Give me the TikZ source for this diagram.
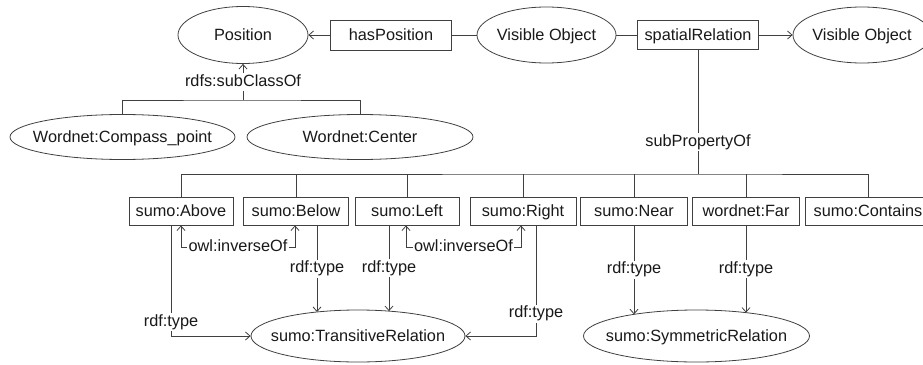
\documentclass[tikz,border=0pt]{standalone}
\usepackage{fontspec}
\setmainfont{Liberation Sans}
\usetikzlibrary{shapes.geometric,arrows.meta,calc}

% ellipse text: zero-size box, caps centred on the node centre
\newcommand\ctr[1]{\makebox[0pt]{\raisebox{-5.85pt}[0pt][0pt]{#1}}}
% vertical arrow from a point straight down onto the border of an ellipse node
% #1 start, #2 ellipse node, #3 x radius, #4 y radius, #5 label
\newcommand\vdrop[5]{%
  \draw[arr] let \p1=(#1), \p2=(#2.center) in
    (\p1) -- node[lbl]{#5}
    (\x1,{\y2+#4pt*sqrt(1-((\x1-\x2)/#3pt)*((\x1-\x2)/#3pt))});}

\colorlet{linecol}{black!75}
\colorlet{textcol}{black!90}

\begin{document}
\begin{tikzpicture}[x=1pt,y=-1pt,
  line width=0.8pt, draw=linecol,
  every node/.style={font=\fontsize{16.3pt}{19pt}\selectfont, text=textcol},
  ell/.style={draw, ellipse, inner sep=0pt},
  box/.style={draw, rectangle, inner sep=0pt, minimum height=28pt,
    text height=11.7pt, text depth=0pt},
  lbl/.style={fill=white, inner sep=1.5pt, text height=11.7pt, text depth=3.5pt},
  arr/.style={-{Straight Barb[length=4.5pt,width=8pt]}},
  arr2/.style={{Straight Barb[length=4.5pt,width=8pt]}-{Straight Barb[length=4.5pt,width=8pt]}}]
\useasboundingbox (0,0) rectangle (923,364);
\clip (0,0) rectangle (923,364);

% top row
\node[ell, minimum width=130pt, minimum height=57pt] (pos) at (243,35) {\ctr{Position}};
\node[box, minimum width=121pt, minimum height=30pt] (hasp) at (391,35) {hasPosition};
\node[ell, minimum width=139pt, minimum height=56pt] (vo1) at (546.5,35) {\ctr{Visible Object}};
\node[box, minimum width=121pt, minimum height=29pt] (spat) at (698,35) {spatialRelation};
\node[ell, minimum width=138pt, minimum height=56pt] (vo2) at (862,35) {\ctr{Visible Object}};

\draw[arr] (hasp.west) -- (pos.east);
\draw (hasp.east) -- (vo1.west);
\draw (vo1.east) -- (spat.west);
\draw[arr] (spat.east) -- (vo2.west);

% subclasses of Position
\node[ell, minimum width=225pt, minimum height=45pt] (cp) at (122.5,137) {\ctr{Wordnet:Compass\_point}};
\node[ell, minimum width=226pt, minimum height=45pt] (cen) at (360,137) {\ctr{Wordnet:Center}};
\coordinate (scj) at (243,100);
\draw (cp.north) |- (scj) -| (cen.north);
\draw[arr] (scj) -- node[lbl]{rdfs:subClassOf} (pos.south);

% sub-properties of spatialRelation
\node[box, minimum width=104pt] (above) at (181,211) {sumo:Above};
\node[box, minimum width=105pt] (below) at (296,211) {sumo:Below};
\node[box, minimum width=104pt] (left) at (407,211) {sumo:Left};
\node[box, minimum width=106pt] (right) at (523,211) {sumo:Right};
\node[box, minimum width=107pt] (near) at (634,211) {sumo:Near};
\node[box, minimum width=107pt] (far) at (746,211) {wordnet:Far};
\node[box, minimum width=126pt] (contains) at (868,211) {sumo:Contains};

\coordinate (spj) at (698,174);
\draw (spat.south) -- node[lbl, pos=0.743]{subPropertyOf} (spj);
\draw (above.north) |- (spj) -| (contains.north);
\foreach \n in {below,left,right,near,far}
  \draw (\n.north) -- (\n.north |- spj);

% relation classes
\node[ell, minimum width=214pt, minimum height=52pt] (trans) at (358,336) {\ctr{sumo:TransitiveRelation}};
\node[ell, minimum width=226pt, minimum height=52pt] (sym) at (696.5,336) {\ctr{sumo:SymmetricRelation}};

\draw[arr2] (above.south) -- ++(0,22) -| node[lbl, pos=0.25]{owl:inverseOf} ([xshift=-1pt]below.south);
\draw[arr2] ([xshift=-1pt]left.south) -- ++(0,22) -| node[lbl, pos=0.25]{owl:inverseOf} ([xshift=-2pt]right.south);

\draw[arr] ([xshift=-10pt]above.south) |- node[lbl, pos=0.437]{rdf:type} (trans.west);
\vdrop{[xshift=21pt]below.south}{trans}{107}{26}{rdf:type}
\vdrop{[xshift=-18pt]left.south}{trans}{107}{26}{rdf:type}
\draw[arr] ([xshift=13pt]right.south) |- node[lbl, pos=0.4]{rdf:type} (trans.east);
\vdrop{near.south}{sym}{113}{26}{rdf:type}
\vdrop{far.south}{sym}{113}{26}{rdf:type}
\end{tikzpicture}
\end{document}
